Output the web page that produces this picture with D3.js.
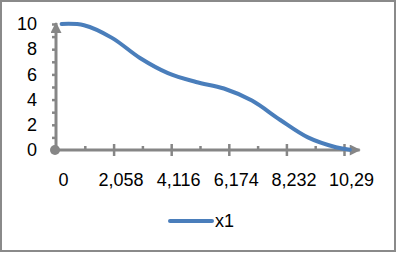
<html>
<head>
<style>
  body { margin: 0; background: #fff; }
  text { font-family: "Liberation Sans", Arial, sans-serif; font-size: 18px; fill: #000; }
  .axis path.domain { display: none; }
  .axis line { stroke: #868686; stroke-width: 2.5; }
</style>
</head>
<body>
<svg id="chart" width="398" height="253"></svg>
<script src="https://cdn.jsdelivr.net/npm/d3@7"></script>
<script>
// series x1
let xVals = [0.2, 1, 2, 3, 4, 5, 6, 7, 8, 9, 10, 10.5]
let yVals = [10, 9.9, 8.9, 7.3, 6.1, 5.4, 4.88, 3.92, 2.4, 1.0, 0.22, 0.02]
let seriesName = "x1"
let xTicks = [0, 2.058, 4.116, 6.174, 8.232, 10.29]
let xTickLabels = ["0", "2,058", "4,116", "6,174", "8,232", "10,29"]
let yTicks = [0, 1, 2, 3, 4, 5, 6, 7, 8, 9, 10]

let svg = d3.select("#chart")
let axisColor = "#868686"
let lineColor = "#4a7ebb"

// chart frame
svg.append("rect")
    .attr("x", 1).attr("y", 1)
    .attr("width", 394).attr("height", 250)
    .attr("fill", "white")
    .attr("stroke", "#8a8a8a")
    .attr("stroke-width", 2)

let x = d3.scaleLinear().domain([0, 10.29]).range([56, 344])
let y = d3.scaleLinear().domain([0, 10]).range([150, 24])

// arrow heads
let defs = svg.append("defs")
defs.append("marker")
    .attr("id", "arrow")
    .attr("viewBox", "0 0 10 10")
    .attr("refX", 9).attr("refY", 5)
    .attr("markerUnits", "userSpaceOnUse")
    .attr("markerWidth", 14).attr("markerHeight", 11)
    .attr("orient", "auto")
    .append("path")
    .attr("d", "M0,0 L10,5 L0,10 Z")
    .attr("fill", axisColor)

// y axis: small ticks every unit, labels on even values
let yAxis = d3.axisLeft(y)
    .tickValues(yTicks)
    .tickSize(4)
    .tickPadding(12)
    .tickFormat(d => d % 2 == 0 ? d : "")
svg.append("g")
    .attr("class", "axis")
    .attr("transform", "translate(" + x(0) + ",0)")
    .call(yAxis)
    .selectAll("text").attr("x", -19)

// x axis minor ticks (above the line)
let minor = xTicks.slice(0, -1).map((d, i) => (d + xTicks[i + 1]) / 2)
svg.append("g")
    .attr("class", "axis")
    .attr("transform", "translate(0," + y(0) + ")")
    .call(d3.axisTop(x).tickValues(minor).tickSize(4).tickFormat(""))

// x axis major ticks (crossing)
let xAxis = d3.axisBottom(x)
    .tickValues(xTicks)
    .tickSize(6)
    .tickPadding(17)
    .tickFormat((d, i) => xTickLabels[i])
let gx = svg.append("g")
    .attr("class", "axis")
    .attr("transform", "translate(0," + y(0) + ")")
    .call(xAxis)
gx.selectAll("line").attr("y1", -6)
gx.selectAll("line").filter(d => d == 0).remove()
gx.selectAll("text").attr("dx", 7)

// axis lines with arrows
svg.append("line")
    .attr("x1", x(0)).attr("y1", y(0))
    .attr("x2", x(0)).attr("y2", y(10) - 1)
    .attr("stroke", axisColor).attr("stroke-width", 3)
    .attr("marker-end", "url(#arrow)")
svg.append("line")
    .attr("x1", x(0)).attr("y1", y(0))
    .attr("x2", x(10.85)).attr("y2", y(0))
    .attr("stroke", axisColor).attr("stroke-width", 3)
    .attr("marker-end", "url(#arrow)")

svg.append("circle")
    .attr("cx", x(0) - 1).attr("cy", y(0))
    .attr("r", 5)
    .attr("fill", axisColor)

// series line
let pts = xVals.map((d, i) => [d, yVals[i]])
let line = d3.line()
    .x(d => x(d[0]))
    .y(d => y(d[1]))
    .curve(d3.curveCatmullRom.alpha(0.5))
svg.append("path")
    .datum(pts)
    .attr("d", line)
    .attr("fill", "none")
    .attr("stroke", lineColor)
    .attr("stroke-width", 4)
    .attr("stroke-linecap", "round")

// legend
let lg = svg.append("g").attr("transform", "translate(170,221)")
lg.append("line")
    .attr("x1", 0).attr("x2", 42)
    .attr("stroke", lineColor)
    .attr("stroke-width", 4)
    .attr("stroke-linecap", "round")
lg.append("text")
    .attr("x", 45).attr("dy", "0.35em")
    .text(seriesName)
</script>
</body>
</html>
